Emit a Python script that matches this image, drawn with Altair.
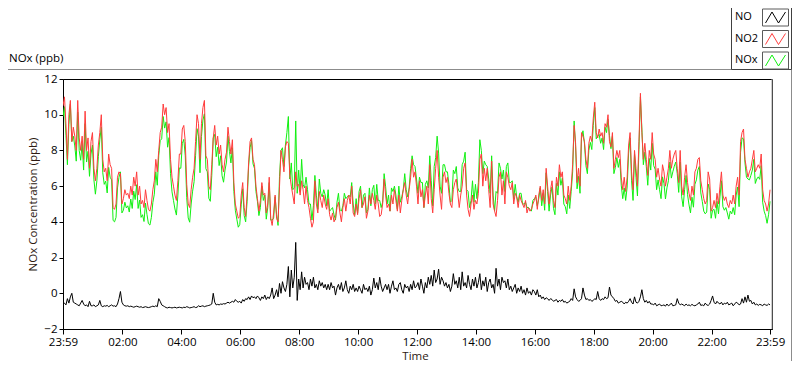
import altair as alt
import pandas as pd

# ---------------- data (3-minute samples from 23:59) ----------------
STEP_MIN = 3

no2_ppb = [
    10.5, 11.0, 9.5, 7.5, 10.0, 10.8, 8.5, 9.3, 8.8, 8.0, 10.8, 8.7, 8.0, 8.8, 7.5, 10.2, 8.0, 8.7, 7.0, 8.5,
    9.0, 7.0, 6.3, 7.0, 8.3, 9.0, 10.0, 7.5, 6.8, 7.0, 6.3, 7.8, 7.2, 7.0, 4.8, 4.7, 5.0, 6.5, 6.8, 6.7,
    5.0, 5.3, 5.8, 5.5, 5.6, 5.3, 6.0, 5.5, 6.5, 6.0, 6.8, 5.5, 6.0, 5.0, 5.2, 4.8, 5.8, 5.2, 4.7, 4.6,
    5.0, 5.8, 6.3, 7.5, 6.8, 8.0, 9.0, 9.3, 10.6, 10.0, 10.4, 9.0, 9.5, 7.5, 6.5, 6.0, 5.5, 5.2, 6.3, 7.8,
    7.8, 9.2, 9.4, 8.5, 6.1, 5.0, 4.8, 5.8, 6.5, 7.0, 8.5, 10.0, 9.5, 7.5, 9.5, 10.4, 10.8, 7.7, 7.5, 6.0,
    5.8, 7.2, 8.7, 9.4, 8.3, 8.8, 7.8, 8.3, 7.2, 6.8, 7.5, 7.9, 9.3, 8.5, 7.8, 8.6, 6.2, 5.0, 4.6, 4.2,
    4.3, 5.5, 6.2, 4.8, 4.3, 5.5, 7.3, 8.5, 8.7, 7.5, 7.2, 6.0, 5.3, 4.6, 5.2, 6.2, 5.5, 5.6, 4.5, 5.0,
    6.5, 4.2, 3.8, 4.5, 5.5, 4.2, 4.0, 6.0, 8.0, 7.5, 6.8, 8.2, 8.5, 8.4, 6.6, 6.0, 5.5, 5.0, 6.8, 6.0,
    6.1, 5.5, 6.3, 5.8, 5.0, 6.0, 5.2, 4.8, 4.2, 3.7, 4.0, 6.3, 5.0, 4.5, 5.7, 5.2, 4.8, 5.5, 5.0, 4.7,
    5.3, 4.4, 4.1, 4.5, 4.0, 4.2, 4.8, 5.1, 4.5, 4.0, 4.8, 5.3, 4.6, 5.2, 5.5, 5.0, 6.0, 4.5, 4.3, 5.0,
    4.4, 5.3, 5.8, 4.8, 5.0, 5.4, 4.2, 4.6, 5.5, 5.0, 5.6, 5.2, 4.7, 5.5, 5.0, 4.3, 4.4, 5.0, 6.4, 5.5,
    4.8, 5.0, 4.6, 5.5, 5.0, 5.8, 5.2, 4.6, 5.5, 4.5, 5.2, 5.8, 6.2, 5.5, 5.0, 5.8, 6.5, 7.5, 6.5, 6.8,
    6.0, 5.0, 6.3, 5.4, 5.8, 4.8, 5.5, 6.0, 5.0, 7.2, 5.3, 4.5, 5.8, 7.0, 8.0, 6.5, 5.5, 4.7, 6.5, 6.8,
    6.2, 6.5, 5.6, 5.0, 4.8, 5.8, 6.2, 6.4, 5.6, 4.8, 5.5, 6.0, 7.0, 7.3, 5.5, 4.7, 4.3, 5.0, 5.5, 4.7,
    5.2, 5.0, 5.6, 7.5, 7.8, 6.0, 7.0, 6.3, 7.0, 5.8, 4.8, 7.4, 5.0, 4.6, 4.3, 5.2, 6.5, 6.8, 5.5, 6.3,
    5.0, 6.8, 6.5, 6.0, 5.8, 6.2, 5.0, 5.6, 5.4, 4.8, 5.5, 5.2, 5.0, 4.8, 5.2, 4.5, 4.8, 4.6, 4.7, 5.0,
    5.2, 5.5, 4.7, 5.5, 6.0, 5.2, 5.8, 5.0, 7.0, 6.0, 5.0, 5.8, 6.3, 5.2, 4.8, 6.5, 6.0, 7.2, 6.5, 6.8,
    5.5, 5.3, 5.0, 6.0, 5.2, 6.0, 7.2, 9.4, 8.4, 6.2, 7.0, 6.0, 9.0, 8.8, 8.5, 7.5, 7.0, 8.4, 8.8, 8.5,
    9.8, 10.7, 9.0, 8.7, 9.2, 8.8, 9.0, 8.4, 9.5, 9.3, 10.0, 8.5, 8.2, 9.0, 7.0, 7.5, 8.0, 7.6, 8.0, 6.5,
    5.8, 6.5, 5.7, 6.5, 8.3, 9.0, 6.8, 5.8, 8.0, 7.0, 6.0, 8.5, 11.2, 9.0, 7.5, 8.4, 7.5, 6.6, 8.0, 7.5,
    9.0, 7.8, 7.5, 6.5, 7.0, 6.4, 6.0, 7.2, 6.8, 6.0, 6.5, 7.0, 8.0, 7.0, 7.5, 7.8, 8.0, 7.0, 6.2, 8.0,
    6.0, 5.5, 6.5, 7.2, 6.2, 5.6, 5.2, 6.0, 5.5, 6.8, 7.0, 7.5, 7.6, 6.3, 5.8, 5.3, 5.0, 5.2, 6.8, 6.4,
    4.6, 4.8, 5.2, 4.8, 5.6, 5.0, 6.0, 6.8, 5.5, 5.2, 5.4, 5.0, 4.8, 5.2, 5.0, 5.5, 5.0, 6.0, 6.5, 5.5,
    8.5, 9.0, 9.2, 7.5, 7.0, 6.5, 6.8, 7.0, 7.5, 8.0, 6.8, 7.0, 7.2, 7.0, 7.8, 5.8, 5.2, 5.0, 4.6, 5.0, 5.8,
]

no_ppb = [
    -0.6, -0.55, -0.65, -0.3, -0.55, -0.2, 0.0, -0.5, -0.55, -0.6, -0.65, -0.7, -0.55, -0.4, -0.6, -0.7, -0.65, -0.75, -0.45, -0.7,
    -0.7, -0.65, -0.75, -0.7, -0.65, -0.4, -0.7, -0.75, -0.7, -0.72, -0.68, -0.75, -0.7, -0.65, -0.72, -0.7, -0.75, -0.6, -0.3, 0.1,
    -0.5, -0.65, -0.7, -0.72, -0.7, -0.75, -0.72, -0.75, -0.78, -0.75, -0.72, -0.75, -0.78, -0.75, -0.8, -0.78, -0.75, -0.78, -0.8, -0.78,
    -0.75, -0.72, -0.75, -0.7, -0.75, -0.3, -0.45, -0.65, -0.7, -0.75, -0.8, -0.82, -0.78, -0.8, -0.82, -0.8, -0.78, -0.82, -0.8, -0.78,
    -0.8, -0.82, -0.78, -0.8, -0.75, -0.78, -0.82, -0.8, -0.78, -0.75, -0.8, -0.78, -0.7, -0.75, -0.72, -0.7, -0.75, -0.72, -0.7, -0.68,
    -0.65, -0.6, 0.0, -0.5, -0.65, -0.62, -0.65, -0.6, -0.62, -0.58, -0.6, -0.55, -0.5, -0.55, -0.5, -0.45, -0.5, -0.35, -0.45, -0.5,
    -0.45, -0.55, -0.35, -0.45, -0.3, -0.35, -0.2, -0.35, -0.15, -0.25, -0.2, -0.3, -0.15, -0.25, -0.4, -0.2, -0.3, -0.1, -0.35, -0.2,
    -0.3, -0.1, 0.3, -0.3, -0.1, 0.2, -0.2, 0.55, 0.0, 0.65, 0.3, 0.1, 0.5, 1.5, -0.2, 1.3, 0.3, 0.9, 2.85, -0.4,
    0.8, 0.2, 1.2, 0.3, 0.9, 0.5, 0.6, 0.2, 0.8, 0.4, 0.9, 0.3, 0.5, 0.2, 0.7, 0.4, 0.6, 0.3, 0.5, 0.2,
    0.5, 0.2, 0.6, 0.3, 0.4, -0.1, 0.3, 0.5, 0.2, 0.6, 0.1, 0.3, 0.7, 0.2, 0.0, 0.4, 0.2, 0.5, 0.1, 0.3,
    0.1, 0.4, 0.2, 0.0, 0.5, 0.2, 0.3, 0.1, 0.4, -0.1, 0.2, 0.85, 0.3, 0.6, 0.2, 0.9, 0.4, 0.1, 0.3, 0.5,
    0.2, 0.5, 0.0, 0.4, 0.7, 0.2, 0.3, 0.1, 0.5, 0.6, 0.2, 0.0, 0.5, 0.3, 0.4, 0.1, 0.5, 0.2, 0.7, 0.3,
    0.4, 0.6, 0.2, 0.8, 0.4, 0.0, 0.6, 0.3, 0.9, 0.5, 1.0, 0.4, 1.3, 0.6, 0.8, 1.35, 0.5, 0.9, 0.7, 0.4,
    0.6, 0.3, 0.5, 0.1, 0.4, 1.1, 0.5, 0.7, 0.3, 0.9, 0.2, 1.2, 0.4, 0.6, 0.3, 1.0, 0.5, 0.2, 0.8, 0.4,
    0.9, 0.3, 0.6, 1.1, 0.2, 0.7, 0.4, 0.9, 0.1, 0.6, 0.8, 0.3, 0.5, 0.0, 1.4, 0.4, 0.8, 0.2, 0.9, 0.6,
    0.7, 0.3, 0.8, 0.2, 0.4, 0.1, 0.3, 0.5, 0.0, 0.3, 0.1, 0.4, 0.0, 0.2, -0.1, 0.3, 0.0, 0.1, -0.1, 0.2,
    0.1, -0.1, 0.2, -0.2, -0.1, -0.3, -0.2, -0.35, -0.25, -0.3, -0.4, -0.3, -0.35, -0.45, -0.4, -0.35, -0.5, -0.4, -0.45, -0.35,
    -0.5, -0.45, -0.55, -0.5, -0.45, -0.3, -0.4, 0.25, -0.2, -0.35, -0.45, -0.4, -0.3, 0.3, -0.1, -0.35, -0.3, -0.4, -0.35, -0.45,
    -0.4, -0.3, -0.35, 0.1, -0.3, -0.4, -0.3, -0.35, -0.2, -0.3, -0.25, 0.35, -0.1, -0.2, -0.3, -0.45, -0.4, -0.55, -0.5, -0.45,
    -0.5, -0.6, -0.5, -0.55, -0.45, -0.3, -0.5, -0.6, -0.2, -0.5, -0.55, -0.45, -0.2, 0.2, -0.3, -0.5, -0.4, -0.55, -0.45, -0.6,
    -0.6, -0.65, -0.55, -0.7, -0.65, -0.6, -0.7, -0.68, -0.65, -0.72, -0.6, -0.7, -0.65, -0.55, -0.7, -0.68, -0.65, -0.3, -0.55, -0.65,
    -0.6, -0.65, -0.7, -0.6, -0.68, -0.65, -0.7, -0.62, -0.68, -0.7, -0.65, -0.6, -0.5, -0.68, -0.65, -0.7, -0.55, -0.65, -0.68, -0.6,
    -0.4, -0.15, -0.5, -0.6, -0.45, -0.55, -0.6, -0.5, -0.65, -0.55, -0.6, -0.5, -0.65, -0.6, -0.55, -0.7, -0.6, -0.5, -0.55, -0.65,
    -0.6, -0.3, -0.55, -0.2, -0.5, -0.1, -0.45, -0.4, -0.6, -0.5, -0.65, -0.6, -0.68, -0.62, -0.65, -0.7, -0.6, -0.65, -0.68, -0.6, -0.65,
]

series_names = ["NO", "NO2", "NOx"]
series_colors = ["#000000", "#ff3c3c", "#10f010"]
y_ticks = [-2, 0, 2, 4, 6, 8, 10, 12]

assert len(no2_ppb) == len(no_ppb), (len(no2_ppb), len(no_ppb))
minutes = [STEP_MIN * i for i in range(len(no2_ppb))]
nox_ppb = [round(a + b, 3) for a, b in zip(no2_ppb, no_ppb)]  # NOx = NO + NO2

frames = []
for name, vals in [("NOx", nox_ppb), ("NO2", no2_ppb), ("NO", no_ppb)]:
    frames.append(pd.DataFrame({"minute": minutes, "series": name, "value": vals}))
df = pd.concat(frames, ignore_index=True)

# ---------------- time axis (minutes after 23:59) ----------------
X_MAX = 1444
major_labels = {0: "23:59", 1440: "23:59"}
for h in range(2, 24, 2):
    major_labels[1 + 60 * h] = f"{h:02d}:00"
tick_values = [0] + [1 + 15 * k for k in range(1, 96)] + [1440]
label_expr = "''"
for v, s in major_labels.items():
    label_expr = f"datum.value == {v} ? '{s}' : ({label_expr})"

FONT = "Open Sans"
TITLE_COLOR = "#2e1a12"

x_enc = alt.X(
    "minute:Q",
    scale=alt.Scale(domain=[0, X_MAX], nice=False, zero=False),
    axis=alt.Axis(
        values=tick_values, labelExpr=label_expr, labelOverlap=False, labelFlush=False,
        grid=False, tickSize=5, labelPadding=2, title="Time",
        titleX=352, titleY=30, titleBaseline="alphabetic", titleAlign="center",
    ),
)
y_enc = alt.Y(
    "value:Q",
    scale=alt.Scale(domain=[-2, 12], nice=False, zero=False),
    axis=alt.Axis(
        values=y_ticks, grid=False, tickSize=4, labelPadding=2,
        title="NOx Concentration (ppb)", titleX=-27, titleY=125,
        titleAngle=270, titleBaseline="alphabetic", titleAlign="center",
    ),
)
color_enc = alt.Color(
    "series:N",
    scale=alt.Scale(domain=series_names, range=series_colors),
    legend=None,
)

base = alt.Chart(df)
lines = [
    base.transform_filter(alt.datum.series == s)
    .mark_line(strokeWidth=1, clip=True)
    .encode(x=x_enc, y=y_enc, color=color_enc)
    for s in ["NOx", "NO2", "NO"]
]

one = pd.DataFrame({"label": ["NOx (ppb)"]})

# outer panel frame (decoration; left/bottom edges fall outside the canvas like the page edge)
panel = alt.Chart(one).mark_rect(fill="transparent", stroke="#8c8c8c", strokeWidth=1).encode(
    x=alt.value(-62.5), x2=alt.value(728.5), y=alt.value(-9.5), y2=alt.value(288.5)
)
right_edge = alt.Chart(one).mark_rule(color="#9a9a9a", strokeWidth=1).encode(
    x=alt.datum(X_MAX), y=alt.value(0), y2=alt.value(250)
)
caption = alt.Chart(one).mark_text(
    align="left", baseline="alphabetic", font=FONT, fontSize=11.5, color="#000"
).encode(x=alt.value(-54), y=alt.value(-17), text="label:N")

# legend box in the top-right corner: label on the left, boxed line swatch on the right
legend_row_y = [-62, -40.5, -19]
BOX_PATH = "M-13,-8.5H13V8.5H-13Z"
ZIG_PATH = "M-10,5.5L-3.5,-5.5L3,5.5L10,-5.5"
legend_layers = [
    alt.Chart(one).mark_rect(fill="#ffffff", stroke="#404040", strokeWidth=1).encode(
        x=alt.value(668.5), x2=alt.value(728.5), y=alt.value(-75), y2=alt.value(-9.5)
    )
]
for name, col, yy in zip(series_names, series_colors, legend_row_y):
    entry = alt.Chart(pd.DataFrame({"series": [name]}))
    legend_layers.append(
        entry.mark_text(align="left", baseline="middle", font=FONT, fontSize=11, color="#000")
        .encode(x=alt.value(672), y=alt.value(yy), text="series:N")
    )
    legend_layers.append(
        entry.mark_point(shape=BOX_PATH, size=4, filled=False, color="#5a5a5a",
                         strokeWidth=1, opacity=1)
        .encode(x=alt.value(712.5), y=alt.value(yy + 0.5))
    )
    legend_layers.append(
        entry.mark_point(shape=ZIG_PATH, size=4, filled=False, color=col,
                         strokeWidth=1, opacity=1)
        .encode(x=alt.value(712.5), y=alt.value(yy + 0.5))
    )

chart = (
    alt.layer(panel, *lines, right_edge, caption, *legend_layers)
    .properties(
        width=709, height=250,
        autosize=alt.AutoSizeParams(type="none"),
        padding={"left": 55, "top": 71, "right": 20, "bottom": 32},
        background="#ffffff",
    )
    .configure_view(stroke="#000000", strokeWidth=1)
    .configure_axis(
        labelFont=FONT, labelFontSize=11.5, labelColor="#000",
        titleFont=FONT, titleFontSize=11.5, titleFontWeight="normal", titleColor=TITLE_COLOR,
        domainColor="#000", tickColor="#000", domainWidth=1, tickWidth=1,
    )
)

chart.save("out.html", embed_options={"renderer": "svg", "actions": False})
